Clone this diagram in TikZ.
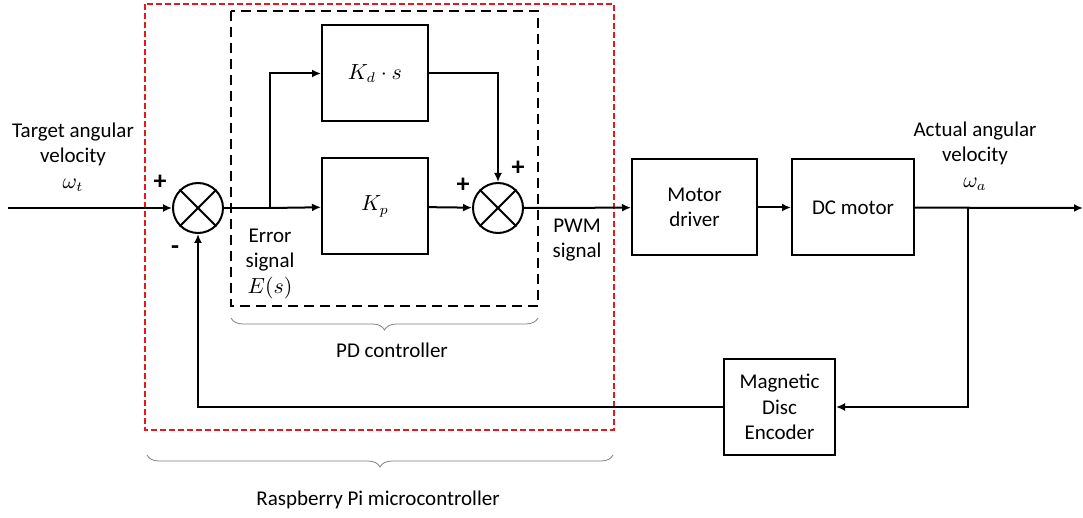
\documentclass[tikz,border=0pt]{standalone}
\usepackage{fontspec}
\setmainfont{Carlito}
\usetikzlibrary{arrows.meta, decorations.pathreplacing}
\definecolor{rpired}{RGB}{228,24,30}

\begin{document}
\begin{tikzpicture}[x=0.5pt, y=-0.5pt, >={Latex[length=4.5pt, width=4pt]},
  font=\fontsize{10.5}{12.75}\selectfont,
  block/.style={draw, line width=1pt, minimum width=53pt, minimum height=48pt, align=center},
  sumnode/.style={circle, draw, line width=1pt, minimum size=25pt, inner sep=0pt},
  txt/.style={align=center, inner sep=0pt},
  sgn/.style={inner sep=0pt, font=\fontsize{13}{13}\selectfont\bfseries},
  sig/.style={->, line width=1pt}]
  \useasboundingbox (0,0) rectangle (1083,518);

  % Frames
  \draw[rpired, line width=1pt, dash pattern=on 3pt off 1.5pt] (145,4) rectangle (614,430);
  \draw[line width=1pt, dash pattern=on 5pt off 3pt] (231,11) rectangle (538,306);

  % Main nodes
  \node[sumnode] (sum1) at (198,208) {};
  \node[sumnode] (sum2) at (498,208) {};
  \node[block] (Kd) at (375,73.5) {$K_d\cdot s$};
  \node[block] (Kp) at (375,206.5) {$K_p$};
  \node[block, minimum width=62.5pt] (drv) at (694.5,207.5) {Motor\\driver};
  \node[block, minimum width=61pt] (motor) at (853,207.5) {DC motor};
  \node[block, minimum width=55.5pt] (enc) at (779.5,407) {Magnetic\\Disc\\Encoder};
  \coordinate (in) at (8,208);
  \coordinate (out) at (1083,208);
  \coordinate (split) at (270,208);
  \coordinate (tap) at (968,208);

  % Crosses in the summing points
  \draw[line width=1pt] (sum1.north west) -- (sum1.south east) (sum1.north east) -- (sum1.south west);
  \draw[line width=1pt] (sum2.north west) -- (sum2.south east) (sum2.north east) -- (sum2.south west);

  % Forward path
  \draw[sig] (in) -- (sum1);
  \draw[line width=1pt] (sum1) -- (split);
  \draw[sig] (split) -- (Kp);
  \draw[sig] (split) |- (Kd);
  \draw[sig] (Kp) -- (sum2);
  \draw[sig] (Kd) -| (sum2);
  \draw[sig] (sum2) -- (drv);
  \draw[sig] (drv) -- (motor);
  \draw[sig] (motor) -- (out);

  % Feedback path
  \draw[sig] (tap) |- (enc);
  \draw[sig] (enc) -| (sum1);

  % Labels
  \node[txt] (tgt) at (73,157) {Target angular\\velocity\\$\omega_t$};
  \node[txt] (act) at (975,156) {Actual angular\\velocity\\$\omega_a$};
  \node[txt] (err) at (270,264) {Error\\signal\\$E(s)$};
  \node[txt] (pwm) at (577,240) {PWM\\signal};
  \node[sgn] (p1) at (160,182) {+};
  \node[sgn] (m1) at (175,250) {-};
  \node[sgn] (p2) at (463,185) {+};
  \node[sgn] (p3) at (518,168) {+};

  % Braces
  \draw[gray, decorate, decoration={brace, mirror, amplitude=6pt}] (231,318) -- (538,318);
  \node[txt] (pd) at (392,350) {PD controller};
  \draw[gray, decorate, decoration={brace, mirror, amplitude=6pt}] (147,455) -- (613,455);
  \node[txt] (rpi) at (378,500) {Raspberry Pi microcontroller};
\end{tikzpicture}
\end{document}
